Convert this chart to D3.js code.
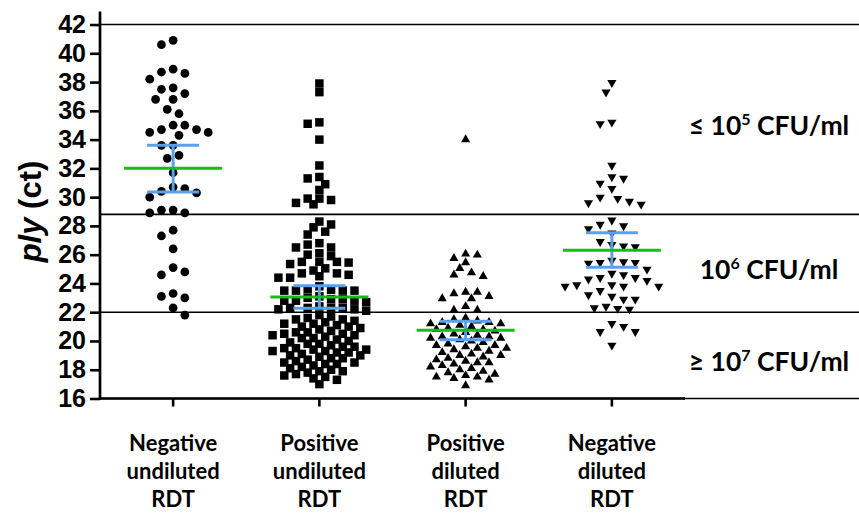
<!DOCTYPE html>
<html><head><meta charset="utf-8">
<script src="https://cdn.jsdelivr.net/npm/d3@7/dist/d3.min.js"></script>
<style>body{margin:0;background:#fff}svg{display:block}</style>
</head><body>
<svg id="chart" width="859" height="519"></svg>
<script>
// ---------------- data ----------------
const categories = [
  ["Negative", "undiluted", "RDT"],
  ["Positive", "undiluted", "RDT"],
  ["Positive", "diluted", "RDT"],
  ["Negative", "diluted", "RDT"]
];
const negUndiluted = [40.9, 40.6, 38.9, 38.6, 38.2, 38.7, 37.6, 37.2, 37.5, 36.8, 36.8, 36.1, 35.8,
  35.0, 34.7, 34.5, 34.5, 34.3, 34.7, 35.0, 33.6, 33.6, 32.7, 32.9, 31.7, 30.7, 30.4, 30.0, 30.3,
  30.6, 29.1, 28.9, 28.9, 29.1, 27.7, 27.3, 26.4, 25.1, 24.6, 24.8, 23.1, 23.0, 23.3, 22.3, 21.8];
const posUndiluted = [37.9, 37.3, 35.2, 35.1, 34.0, 32.2, 31.4, 31.3, 30.9, 30.5, 29.9, 29.9, 29.8,
  29.6, 29.5, 28.3, 28.1, 27.9, 27.6, 27.4, 26.8, 26.7, 26.5, 26.5, 26.1, 26.0, 25.9, 25.5, 25.5,
  25.5, 25.45, 25.35, 25.05, 24.9, 24.7, 24.7, 24.6, 24.5, 24.4, 24.4, 23.8, 23.6, 23.55, 23.5,
  23.5, 23.5, 23.5, 23.1, 23.0, 22.9, 22.9, 22.8, 22.8, 22.8, 22.7, 22.4, 22.3, 22.3, 22.3, 22.3,
  22.2, 22.2, 22.1, 21.8, 21.7, 21.6, 21.5, 21.5, 21.4, 21.3, 21.2, 21.2, 21.1, 21.0, 21.0, 20.9,
  20.8, 20.7, 20.6, 20.6, 20.5, 20.5, 20.4, 20.4, 20.3, 20.2, 20.2, 20.1, 20.0, 19.9, 19.8, 19.8,
  19.7, 19.6, 19.6, 19.5, 19.5, 19.4, 19.4, 19.3, 19.3, 19.2, 19.2, 19.1, 19.0, 19.0, 18.9, 18.8,
  18.8, 18.7, 18.6, 18.5, 18.5, 18.4, 18.4, 18.3, 18.2, 18.1, 18.0, 17.9, 17.9, 17.8, 17.7, 17.6,
  17.5, 17.4, 17.3, 17.0];
const posDiluted = [34.0, 26.05, 25.98, 25.75, 25.45, 25.05, 24.75, 24.6, 24.5, 23.4, 23.4, 23.3,
  23.1, 22.95, 22.95, 22.4, 22.15, 22.15, 21.6, 21.5, 21.4, 21.3, 21.3, 21.2, 21.2, 21.1, 21.0,
  20.9, 20.8, 20.8, 20.7, 20.6, 20.5, 20.4, 20.3, 20.3, 20.2, 20.2, 20.1, 20.0, 19.9, 19.8, 19.7,
  19.7, 19.6, 19.5, 19.5, 19.4, 19.3, 19.2, 19.1, 19.0, 19.0, 18.9, 18.8, 18.7, 18.6, 18.5, 18.5,
  18.4, 18.3, 18.2, 18.1, 18.0, 17.9, 17.8, 17.7, 17.6, 17.5, 17.5, 17.4, 17.3, 16.9];
const negDiluted = [37.96, 37.3, 35.2, 35.1, 32.2, 31.3, 31.4, 30.96, 30.6, 29.9, 29.6, 29.5, 29.7,
  29.99, 28.4, 28.1, 27.8, 28.0, 27.5, 26.7, 26.55, 26.6, 26.9, 25.5, 25.45, 25.4, 25.45, 25.6,
  24.98, 24.6, 24.4, 24.2, 24.3, 24.4, 24.7, 23.9, 23.8, 23.8, 23.8, 23.9, 23.2, 23.1, 23.5, 22.9,
  22.9, 22.3, 22.2, 22.25, 22.4, 21.2, 20.65, 20.65, 21.0, 19.7];
const groups = [negUndiluted, posUndiluted, posDiluted, negDiluted];
const means  = [32.0, 23.05, 20.74, 26.3];
const ciLow  = [30.35, 22.27, 20.09, 25.12];
const ciHigh = [33.6, 23.84, 21.37, 27.53];
const yTicks = [16, 18, 20, 22, 24, 26, 28, 30, 32, 34, 36, 38, 40, 42];
const thresholds = [16, 22, 28.8, 42];
const regionLabels = [
  {pre: "\u2264 10", sup: "5", post: " CFU/ml"},
  {pre: "10", sup: "6", post: " CFU/ml"},
  {pre: "\u2265 10", sup: "7", post: " CFU/ml"}
];

// ---------------- chart ----------------
const svg = d3.select("#chart");
const y = d3.scaleLinear().domain([16, 42.9]).range([398.5, 11.6]);
const x = d3.scaleBand().domain(d3.range(categories.length)).range([100, 685]);
const cx = i => x(i) + x.bandwidth() / 2;
const boldSans = "'Liberation Sans', Arial, sans-serif";
const labelFont = "Lato, 'Open Sans', sans-serif";

// reference lines
svg.append("g").selectAll("line").data(thresholds).join("line")
  .attr("x1", 100).attr("x2", 859)
  .attr("y1", d => y(d)).attr("y2", d => y(d))
  .attr("stroke", "#000").attr("stroke-width", 1.6);

// beeswarm
function swarm(values, d, step) {
  const pts = values.map((v, i) => ({v, i, y: y(v), dx: 0}));
  const order = pts.slice().sort((a, b) => b.v - a.v || a.i - b.i);
  const placed = [];
  let flip = 1;
  order.forEach(p => {
    for (let k = 0; k < 300; k++) {
      const cands = k === 0 ? [0] : [flip * k * step, -flip * k * step];
      let ok = null;
      for (const c of cands) {
        if (placed.every(q => Math.abs(q.y - p.y) >= d || (q.dx - c) ** 2 + (q.y - p.y) ** 2 >= d * d)) { ok = c; break; }
      }
      if (ok !== null) { p.dx = ok; break; }
    }
    flip = -flip;
    placed.push(p);
  });
  return pts;
}

const symbols = [
  {type: d3.symbolCircle, size: 60, rot: 0},
  {type: d3.symbolSquare, size: 72, rot: 0},
  {type: d3.symbolTriangle, size: 36, rot: 0},
  {type: d3.symbolTriangle, size: 36, rot: 180}
];
const spacing = [10.6, 8.0, 8.1, 10.6];

groups.forEach((vals, gi) => {
  const pts = swarm(vals, spacing[gi], 5.85);
  const sym = d3.symbol().type(symbols[gi].type).size(symbols[gi].size);
  svg.append("g").selectAll("path").data(pts).join("path")
    .attr("d", sym)
    .attr("transform", p => `translate(${cx(gi) + p.dx},${p.y}) rotate(${symbols[gi].rot})`)
    .attr("fill", "#000");
});

// mean and CI
const stats = svg.append("g");
d3.range(groups.length).forEach(i => {
  stats.append("line").attr("x1", cx(i)).attr("x2", cx(i))
    .attr("y1", y(ciLow[i])).attr("y2", y(ciHigh[i]))
    .attr("stroke", "#5aa0ea").attr("stroke-width", 3);
  [ciLow[i], ciHigh[i]].forEach(v => stats.append("line")
    .attr("x1", cx(i) - 26).attr("x2", cx(i) + 26)
    .attr("y1", y(v)).attr("y2", y(v))
    .attr("stroke", "#5aa0ea").attr("stroke-width", 3));
  stats.append("line").attr("x1", cx(i) - 49).attr("x2", cx(i) + 49)
    .attr("y1", y(means[i])).attr("y2", y(means[i]))
    .attr("stroke", "#14bf14").attr("stroke-width", 3);
});

// y axis
const yAxis = svg.append("g").attr("transform", "translate(100,0)")
  .call(d3.axisLeft(y).tickValues(yTicks).tickSize(10).tickPadding(4).tickFormat(d3.format("d")));
yAxis.select(".domain").attr("stroke-width", 2.7).attr("d", `M0,${y(42.9)}V${y(16) + 1.3}`);
yAxis.selectAll(".tick line").attr("stroke-width", 2.6);
yAxis.selectAll(".tick text").attr("font-family", boldSans).attr("font-weight", "bold")
  .attr("font-size", 25).attr("fill", "#000");

// x axis
const xAxis = svg.append("g").attr("transform", `translate(0,${y(16)})`)
  .call(d3.axisBottom(x).tickSize(8).tickFormat(""));
xAxis.select(".domain").attr("stroke-width", 2.7).attr("d", "M98.7,0H685");
xAxis.selectAll(".tick line").attr("stroke-width", 2.6);

// category labels
const catG = svg.append("g");
categories.forEach((lines, i) => {
  const t = catG.append("text").attr("text-anchor", "middle")
    .attr("font-family", labelFont).attr("font-weight", "bold").attr("font-size", 22).attr("fill", "#000");
  lines.forEach((ln, j) => t.append("tspan").attr("x", cx(i)).attr("y", 451 + j * 28).text(ln));
});

// y title
const yt = svg.append("text").attr("transform", `translate(41,${y(29)}) rotate(-90)`)
  .attr("text-anchor", "middle").attr("font-family", boldSans).attr("font-weight", "bold")
  .attr("font-size", 31).attr("fill", "#000");
yt.append("tspan").attr("font-style", "italic").text("ply");
yt.append("tspan").text(" (ct)");

// region labels
regionLabels.forEach((lab, i) => {
  const mid = (thresholds[3 - i] + thresholds[2 - i]) / 2;
  const t = svg.append("text").attr("x", 769).attr("y", y(mid) + 16)
    .attr("text-anchor", "middle").attr("font-family", labelFont).attr("font-weight", "bold")
    .attr("font-size", 26.5).attr("fill", "#000");
  t.append("tspan").text(lab.pre);
  t.append("tspan").attr("dy", -10).attr("font-size", 16).text(lab.sup);
  t.append("tspan").attr("dy", 10).text(lab.post);
});
</script>
</body></html>
